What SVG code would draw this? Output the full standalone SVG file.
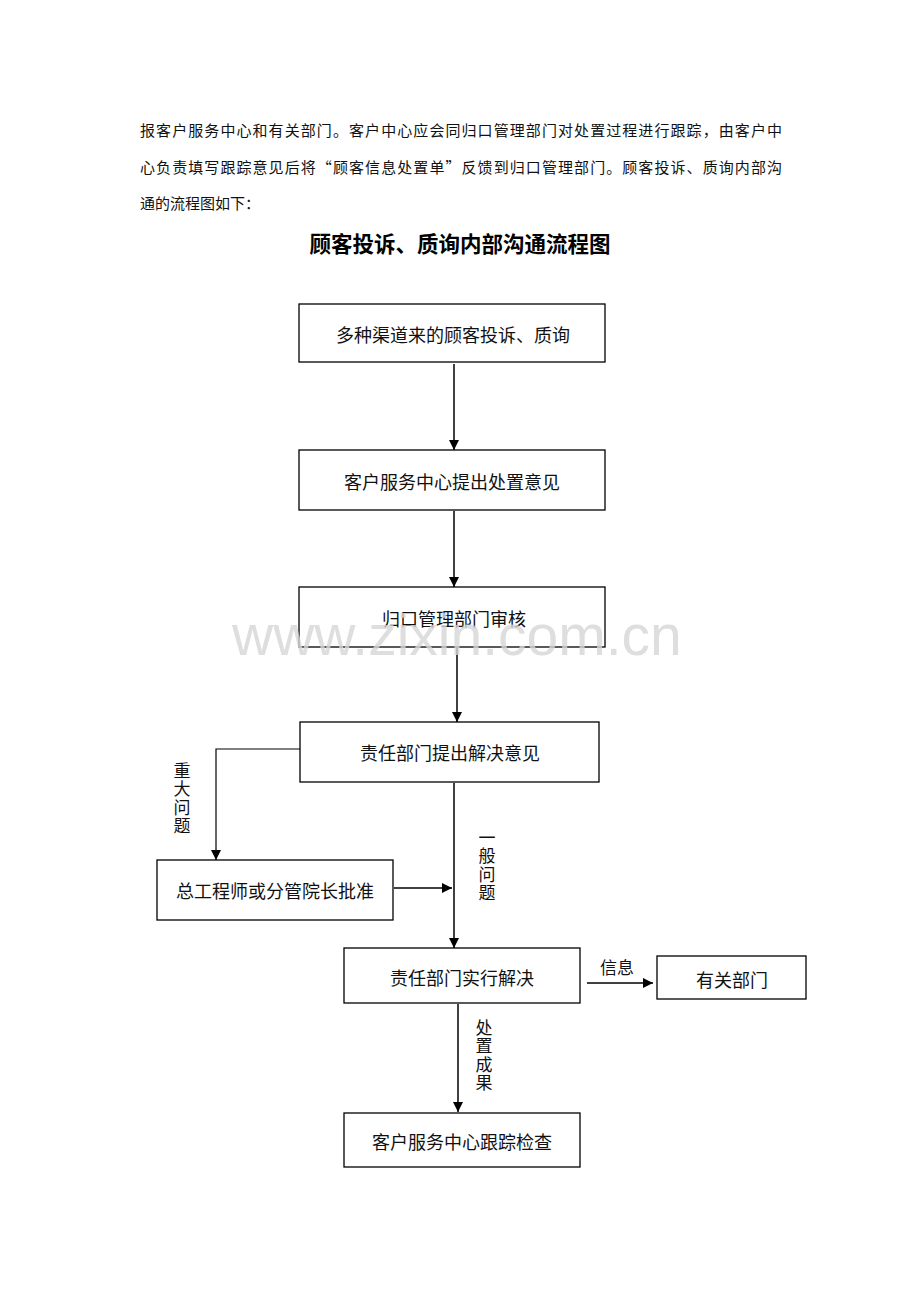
<svg xmlns="http://www.w3.org/2000/svg" width="920" height="1302" viewBox="0 0 920 1302">
<defs>
<style>
.box{fill:#fff;stroke:#000;stroke-width:1.3}
.t{font-family:"Noto Sans CJK SC","Noto Sans",sans-serif;font-size:18px;fill:#111;text-anchor:middle;dominant-baseline:central}
.p{font-family:"Noto Sans CJK SC","Noto Sans",sans-serif;font-size:15px;fill:#111}
.v{font-family:"Noto Sans CJK SC","Noto Sans",sans-serif;font-size:17px;fill:#111;writing-mode:vertical-rl;text-orientation:upright;letter-spacing:1.5px}
.c{fill:none;stroke:#000;stroke-width:1.5}
</style>
<marker id="ah" viewBox="0 0 10 10" refX="10" refY="5" markerWidth="10" markerHeight="10" markerUnits="userSpaceOnUse" orient="auto">
<path d="M0,0 L10,5 L0,10 z" fill="#000"/>
</marker>
</defs>
<rect width="920" height="1302" fill="#fff"/>
<g id="paragraph">
<text class="p" x="140" y="136" textLength="642" lengthAdjust="spacing">报客户服务中心和有关部门。客户中心应会同归口管理部门对处置过程进行跟踪，由客户中</text>
<text class="p" x="140" y="173" textLength="642" lengthAdjust="spacing">心负责填写跟踪意见后将“顾客信息处置单”反馈到归口管理部门。顾客投诉、质询内部沟</text>
<text class="p" x="140" y="209">通的流程图如下：</text>
</g>
<text id="title" x="460" y="252" text-anchor="middle" font-family="'Noto Sans CJK SC',sans-serif" font-size="21.5" font-weight="bold" fill="#000">顾客投诉、质询内部沟通流程图</text>
<g id="connectors">
<line class="c" x1="454" y1="364" x2="454" y2="450" marker-end="url(#ah)"/>
<line class="c" x1="454" y1="511" x2="454" y2="587" marker-end="url(#ah)"/>
<line class="c" x1="457" y1="648" x2="457" y2="722" marker-end="url(#ah)"/>
<polyline class="c" points="300,749 216,749 216,860" marker-end="url(#ah)" style="stroke-width:1.2"/>
<line class="c" x1="454" y1="783" x2="454" y2="948" marker-end="url(#ah)"/>
<line class="c" x1="394" y1="888" x2="452" y2="888" marker-end="url(#ah)"/>
<line class="c" x1="587" y1="983" x2="653" y2="983" marker-end="url(#ah)"/>
<line class="c" x1="458" y1="1004" x2="458" y2="1112" marker-end="url(#ah)"/>
</g>
<g id="n1"><rect class="box" x="299" y="304" width="306" height="58"/><text class="t" x="453" y="334">多种渠道来的顾客投诉、质询</text></g>
<g id="n2"><rect class="box" x="299" y="450" width="306" height="60"/><text class="t" x="452" y="481">客户服务中心提出处置意见</text></g>
<g id="n3"><rect class="box" x="299" y="587" width="306" height="60"/><text class="t" x="454" y="618">归口管理部门审核</text></g>
<g id="n4"><rect class="box" x="300" y="722" width="299" height="60"/><text class="t" x="450" y="752">责任部门提出解决意见</text></g>
<g id="n5"><rect class="box" x="157" y="860" width="236" height="60"/><text class="t" x="275" y="890">总工程师或分管院长批准</text></g>
<g id="n6"><rect class="box" x="344" y="948" width="236" height="55"/><text class="t" x="462" y="977">责任部门实行解决</text></g>
<g id="n7"><rect class="box" x="657" y="956" width="149" height="43"/><text class="t" x="732" y="979">有关部门</text></g>
<g id="n8"><rect class="box" x="344" y="1113" width="236" height="54"/><text class="t" x="462" y="1141">客户服务中心跟踪检查</text></g>
<g id="labels">
<text class="v" x="182" y="762">重大问题</text>
<text class="v" x="487" y="829">一般问题</text>
<text class="v" x="484" y="1019">处置成果</text>
<text x="617" y="974" text-anchor="middle" font-family="'Noto Sans CJK SC',sans-serif" font-size="17" fill="#111">信息</text>
</g>
<text id="watermark" x="232" y="655" font-family="'Liberation Sans',Arial,sans-serif" font-size="57" fill="#d6d6d6" fill-opacity="0.8">www.zixin.com.cn</text>
</svg>
